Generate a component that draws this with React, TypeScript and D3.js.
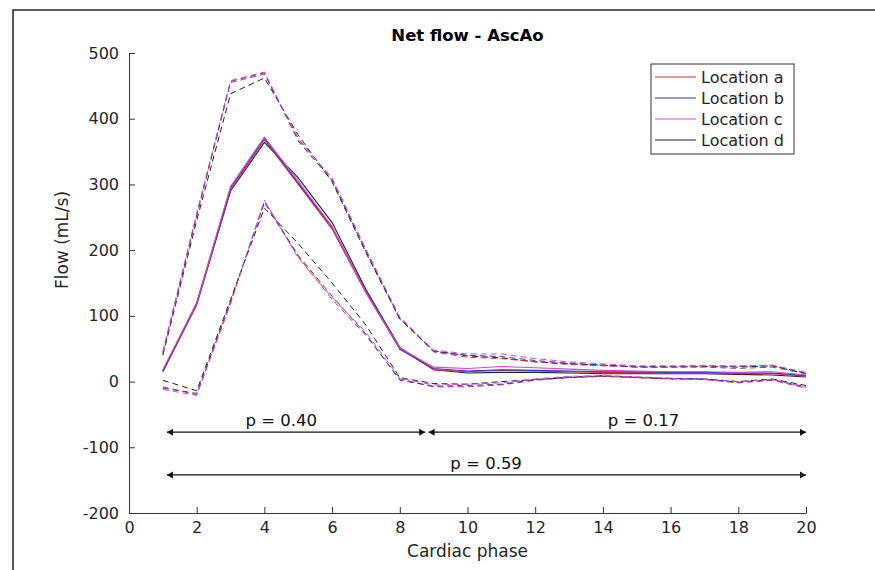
// App.tsx
import React, { useRef, useEffect } from 'react';
import * as d3 from 'd3';

const phases = d3.range(1, 21);
const locations = ['Location a', 'Location b', 'Location c', 'Location d'];
const colors = ['#cc3535', '#3535b5', '#d845d8', '#222222'];

// mean flow per location
const meanA = [17, 118, 292, 368, 300, 232, 135, 50, 18, 15, 17, 16, 15, 14, 14, 13, 13, 12, 12, 8];
const meanB = [16, 120, 295, 370, 302, 235, 138, 49, 20, 16, 18, 17, 16, 15, 15, 14, 14, 13, 13, 9];
const meanC = [18, 119, 297, 372, 305, 236, 136, 51, 22, 20, 23, 21, 19, 17, 16, 15, 15, 14, 15, 10];
const meanD = [15, 117, 290, 364, 310, 242, 140, 52, 18, 13, 14, 14, 13, 12, 12, 12, 12, 11, 10, 7];

// mean + SD
const upperA = [42, 252, 455, 468, 370, 308, 200, 97, 45, 37, 35, 30, 26, 24, 22, 22, 22, 20, 22, 12];
const upperB = [44, 254, 457, 470, 366, 306, 198, 96, 46, 40, 38, 32, 28, 25, 23, 23, 24, 23, 24, 13];
const upperC = [46, 256, 458, 471, 368, 310, 201, 98, 48, 42, 42, 35, 30, 27, 24, 24, 24, 24, 25, 14];
const upperD = [40, 245, 438, 462, 375, 304, 196, 95, 47, 39, 36, 30, 27, 25, 22, 22, 23, 22, 24, 12];

// mean - SD
const lowerA = [-8, -20, 122, 272, 190, 125, 70, 4, -8, -8, -5, 2, 6, 8, 6, 4, 3, -2, 2, -10];
const lowerB = [-10, -18, 120, 274, 192, 130, 72, 2, -7, -6, -4, 3, 7, 9, 7, 5, 4, -1, 3, -8];
const lowerC = [-12, -21, 118, 276, 188, 128, 75, 5, -5, -4, -2, 4, 8, 9, 7, 5, 3, 0, 3, -9];
const lowerD = [2, -14, 125, 264, 210, 150, 86, 6, -3, -4, 0, 3, 6, 8, 6, 4, 4, 0, 4, -6];

// significance arrows
const arrowFrom = [1.12, 8.85, 1.12];
const arrowTo = [8.75, 20, 20];
const arrowY = [-77, -77, -142];
const arrowLabels = ['p = 0.40', 'p = 0.17', 'p = 0.59'];
const labelX = [4.5, 15.2, 10.55];
const labelY = [-59, -59, -124];

const xTicks = d3.range(0, 21, 2);
const yTicks = d3.range(-200, 501, 100);

const FONT = '"DejaVu Sans", sans-serif';

const App = () => {
    const chartRef = useRef<SVGSVGElement>(null);

    useEffect(() => {
        d3.select(chartRef.current).selectAll('*').remove();

        const width = 875;
        const height = 570;
        const svg = d3.select(chartRef.current)
            .attr('width', width)
            .attr('height', height);

        svg.append('rect').attr('width', width).attr('height', height).attr('fill', '#fff');

        // frame lines of the figure screenshot (top and left only)
        svg.append('path')
            .attr('d', `M13,${height}V10H${width + 5}`)
            .attr('fill', 'none')
            .attr('stroke', '#222')
            .attr('stroke-width', 1.5);

        const x = d3.scaleLinear().domain([0, 20]).range([129, 806]);
        const y = d3.scaleLinear().domain([-200, 500]).range([513, 53]);

        const line = d3.line<number>()
            .x((d, i) => x(phases[i]))
            .y((d) => y(d));

        const means = [meanA, meanB, meanC, meanD];
        const uppers = [upperA, upperB, upperC, upperD];
        const lowers = [lowerA, lowerB, lowerC, lowerD];
        const order = [3, 0, 1, 2];

        order.forEach((k) => {
            [uppers[k], lowers[k]].forEach((s) => {
                svg.append('path')
                    .attr('d', line(s))
                    .attr('fill', 'none')
                    .attr('stroke', colors[k])
                    .attr('stroke-width', 1)
                    .attr('stroke-dasharray', '6,4');
            });
        });
        order.forEach((k) => {
            svg.append('path')
                .attr('d', line(means[k]))
                .attr('fill', 'none')
                .attr('stroke', colors[k])
                .attr('stroke-width', 1.1);
        });

        // axes, MATLAB style ticks pointing inward
        const fmt = (d: d3.NumberValue) => String(d);
        const xAxis = d3.axisBottom(x).tickValues(xTicks).tickFormat(fmt).tickSize(-6).tickSizeOuter(0).tickPadding(9);
        const yAxis = d3.axisLeft(y).tickValues(yTicks).tickFormat(fmt).tickSize(-6).tickSizeOuter(0).tickPadding(10);

        const gx = svg.append('g').attr('transform', `translate(0,${y(-200)})`).call(xAxis);
        const gy = svg.append('g').attr('transform', `translate(${x(0)},0)`).call(yAxis);
        [gx, gy].forEach((g) => {
            g.selectAll('path, line').attr('stroke', '#333');
            g.selectAll('text')
                .attr('fill', '#262626')
                .style('font-family', FONT)
                .style('font-size', '16px');
        });

        // arrows
        const arrowHead = (px: number, py: number, dir: number) =>
            `M${px},${py}L${px - dir * 6},${py - 3.5}L${px - dir * 6},${py + 3.5}Z`;
        arrowFrom.forEach((f, i) => {
            const x0 = x(f);
            const x1 = x(arrowTo[i]);
            const yy = y(arrowY[i]);
            svg.append('line')
                .attr('x1', x0).attr('x2', x1)
                .attr('y1', yy).attr('y2', yy)
                .attr('stroke', '#111')
                .attr('stroke-width', 1.2);
            svg.append('path').attr('d', arrowHead(x0, yy, -1)).attr('fill', '#111');
            svg.append('path').attr('d', arrowHead(x1, yy, 1)).attr('fill', '#111');
            svg.append('text')
                .attr('x', x(labelX[i]))
                .attr('y', y(labelY[i]))
                .attr('dy', '0.35em')
                .attr('text-anchor', 'middle')
                .attr('fill', '#111')
                .style('font-family', FONT)
                .style('font-size', '16.5px')
                .text(arrowLabels[i]);
        });

        // title and labels
        svg.append('text')
            .attr('x', (x(0) + x(20)) / 2)
            .attr('y', 41)
            .attr('text-anchor', 'middle')
            .attr('fill', '#000')
            .style('font-family', FONT)
            .style('font-size', '16.5px')
            .style('font-weight', 'bold')
            .text('Net flow - AscAo');

        svg.append('text')
            .attr('x', (x(0) + x(20)) / 2)
            .attr('y', 557)
            .attr('text-anchor', 'middle')
            .attr('fill', '#262626')
            .style('font-family', FONT)
            .style('font-size', '17px')
            .text('Cardiac phase');

        svg.append('text')
            .attr('transform', 'translate(68,240) rotate(-90)')
            .attr('text-anchor', 'middle')
            .attr('fill', '#262626')
            .style('font-family', FONT)
            .style('font-size', '17px')
            .text('Flow (mL/s)');

        // legend
        const lg = svg.append('g').attr('transform', 'translate(651,64)');
        lg.append('rect')
            .attr('width', 143)
            .attr('height', 90)
            .attr('fill', '#fff')
            .attr('stroke', '#333')
            .attr('stroke-width', 1);
        locations.forEach((name, i) => {
            const ly = 13 + i * 21;
            lg.append('line')
                .attr('x1', 4).attr('x2', 45)
                .attr('y1', ly).attr('y2', ly)
                .attr('stroke', colors[i])
                .attr('stroke-width', 1.2);
            lg.append('text')
                .attr('x', 50)
                .attr('y', ly)
                .attr('dy', '0.35em')
                .attr('fill', '#262626')
                .style('font-family', FONT)
                .style('font-size', '16px')
                .text(name);
        });
    }, []);

    return <svg ref={chartRef} style={{ position: 'absolute', left: 0, top: 0 }}></svg>;
};

export default App;
